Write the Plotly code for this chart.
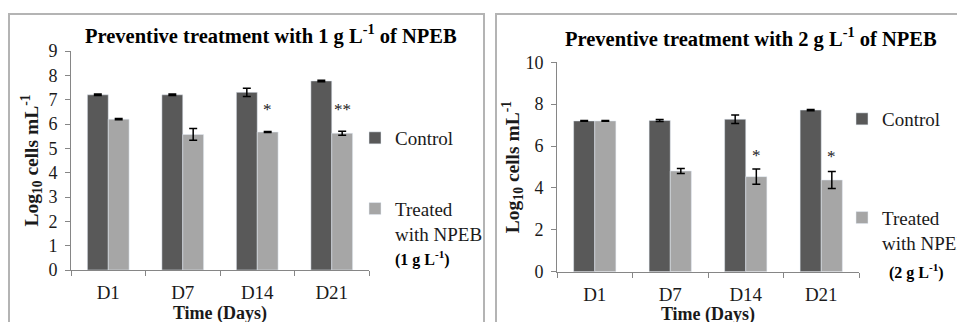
import plotly.graph_objects as go

days = ["D1", "D7", "D14", "D21"]

# Panel 1: 1 g/L
p1_control = [7.2, 7.2, 7.3, 7.77]
p1_control_err = [0.03, 0.03, 0.17, 0.03]
p1_treated = [6.2, 5.57, 5.67, 5.62]
p1_treated_err = [0.03, 0.24, 0.02, 0.08]
p1_sig = ["", "", "*", "**"]
p1_sig_y = [None, None, 6.6, 6.6]

# Panel 2: 2 g/L
p2_control = [7.2, 7.22, 7.28, 7.72]
p2_control_err = [0.02, 0.05, 0.2, 0.03]
p2_treated = [7.2, 4.81, 4.54, 4.38]
p2_treated_err = [0.02, 0.12, 0.36, 0.41]
p2_sig = ["", "", "*", "*"]
p2_sig_y = [None, None, 5.57, 5.49]

C_DARK = "#595959"
C_LIGHT = "#a6a6a6"
SERIF = "Liberation Serif"
TXT = "#1a1a1a"
AX = "#868686"

fig = go.Figure()

def add_panel(ctrl, ctrl_e, trt, trt_e, xa, ya, leg):
    fig.add_trace(go.Bar(x=days, y=ctrl, name="Control", marker_color=C_DARK,
                         error_y=dict(type="data", array=ctrl_e, color="black", thickness=1.5, width=4),
                         xaxis=xa, yaxis=ya, legend=leg, legendgroup=leg + "c"))
    fig.add_trace(go.Bar(x=days, y=trt, name="Treated<br>with NPEB", marker_color=C_LIGHT,
                         error_y=dict(type="data", array=trt_e, color="black", thickness=1.5, width=4),
                         xaxis=xa, yaxis=ya, legend=leg, legendgroup=leg + "t"))

add_panel(p1_control, p1_control_err, p1_treated, p1_treated_err, "x", "y", "legend")
add_panel(p2_control, p2_control_err, p2_treated, p2_treated_err, "x2", "y2", "legend2")

W, H = 965, 322
OFF = 8  # page body margin
def px(x):
    return (x - OFF) / W
def py(y):
    return 1 - (y - OFF) / H

axis_common = dict(showline=True, linecolor=AX, linewidth=1, ticks="outside", ticklen=5,
                   tickcolor=AX, showgrid=False, zeroline=False, automargin=False)

xcommon = dict(axis_common, type="category", tickson="boundaries", ticklabelstandoff=5,
               tickfont=dict(family=SERIF, size=19, color=TXT),
               title=dict(text="<b>Time (Days)</b>", font=dict(family=SERIF, size=18, color=TXT), standoff=0))

def ytitle(standoff):
    return dict(text="<b>Log<sub>10</sub> cells mL<sup>-1</sup></b>",
                font=dict(family=SERIF, size=19.5, color=TXT), standoff=standoff)

def sig_annots(sig_list, sig_y, xref, yref):
    out = []
    for d, s, yv in zip(days, sig_list, sig_y):
        if s:
            out.append(dict(x=d, y=yv, xref=xref, yref=yref, text=s, showarrow=False, xshift=10.5,
                            xanchor="center", yanchor="middle",
                            font=dict(family=SERIF, size=17, color=TXT)))
    return out

annotations = []
annotations += sig_annots(p1_sig, p1_sig_y, "x", "y")
annotations += sig_annots(p2_sig, p2_sig_y, "x2", "y2")

def pa(x, y, text, size):
    return dict(x=px(x), y=py(y), xref="paper", yref="paper", showarrow=False,
                xanchor="center", yanchor="middle", text=text,
                font=dict(family=SERIF, size=size, color="black"))

annotations += [
    pa(271, 35, "<b>Preventive treatment with 1 g L<sup>-1</sup> of NPEB</b>", 20.5),
    pa(751, 37, "<b>Preventive treatment with 2 g L<sup>-1</sup> of NPEB</b>", 20.5),
    pa(422, 258, "<b>(1 g L<sup>-1</sup>)</b>", 16),
    pa(916, 271, "<b>(2 g L<sup>-1</sup>)</b>", 16),
]

shapes = [
    dict(type="rect", xref="paper", yref="paper", x0=px(9), x1=px(484), y0=-0.1, y1=py(14),
         line=dict(color="#b4b4b4", width=2)),
    dict(type="rect", xref="paper", yref="paper", x0=px(496), x1=1.1, y0=-0.1, y1=py(14),
         line=dict(color="#b4b4b4", width=2)),
]

fig.update_layout(
    width=W, height=H, margin=dict(l=0, r=0, t=0, b=0, autoexpand=False),
    paper_bgcolor="white", plot_bgcolor="white",
    barmode="group", bargap=0.44, bargroupgap=0,
    xaxis=dict(xcommon, domain=[px(71), px(369)], anchor="y"),
    yaxis=dict(axis_common, domain=[py(270), py(51)], range=[0, 9], dtick=1, anchor="x",
               ticklabelstandoff=4,
               tickfont=dict(family=SERIF, size=18, color=TXT), title=ytitle(4)),
    xaxis2=dict(xcommon, domain=[px(557), px(859)], anchor="y2"),
    yaxis2=dict(axis_common, domain=[py(271.7), py(62.3)], range=[0, 10], dtick=2, anchor="x2",
                ticklabelstandoff=4,
                tickfont=dict(family=SERIF, size=18, color=TXT), title=ytitle(0)),
    legend=dict(x=px(355), y=py(119), xanchor="left", yanchor="top", valign="top",
                traceorder="grouped", tracegroupgap=43, bgcolor="rgba(0,0,0,0)",
                font=dict(family=SERIF, size=19, color=TXT)),
    legend2=dict(x=px(842), y=py(100), xanchor="left", yanchor="top", valign="top",
                 traceorder="grouped", tracegroupgap=71, bgcolor="rgba(0,0,0,0)",
                 font=dict(family=SERIF, size=19, color=TXT)),
    annotations=annotations,
    shapes=shapes,
    showlegend=True,
)

fig.write_html("out.html")
